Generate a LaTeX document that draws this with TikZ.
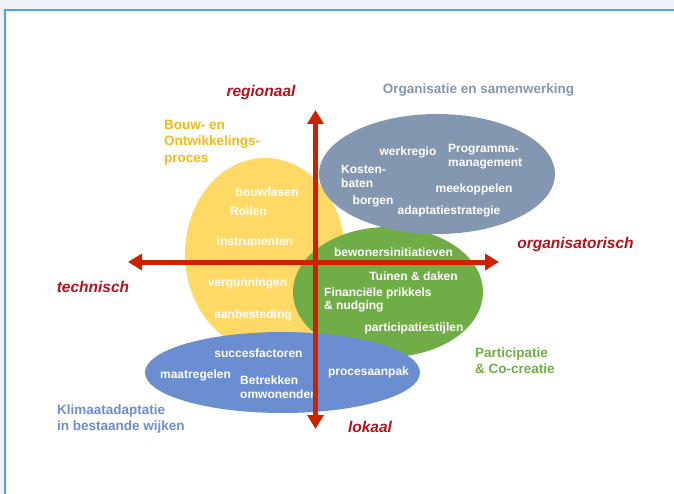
\documentclass[tikz,border=0pt]{standalone}
\usepackage{fontspec}
\setmainfont{Liberation Sans}
\usetikzlibrary{arrows.meta, positioning, shapes.geometric}
\definecolor{axisRed}{HTML}{CC2200}
\definecolor{labelRed}{HTML}{B5121B}
\definecolor{bouwYellow}{HTML}{FFD966}
\definecolor{bouwText}{HTML}{F6B817}
\definecolor{orgGray}{HTML}{8497B0}
\definecolor{partGreen}{HTML}{70AD47}
\definecolor{klimBlue}{HTML}{6A8ECF}
\definecolor{frameBlue}{HTML}{4DA3E0}
\definecolor{pageGray}{HTML}{EEF3F8}
\tikzset{
  axisArrow/.style={{Triangle[width=16pt,length=14pt]}-{Triangle[width=16pt,length=14pt]},
                    axisRed, line width=5pt},
  blob/.style={ellipse, draw=none, inner sep=0pt},
  lbl/.style={text=white, font=\bfseries\fontsize{12}{13.5}\selectfont,
              inner sep=0pt, align=left},
  ttl/.style={font=\bfseries\fontsize{13.5}{16.5}\selectfont, inner sep=0pt, align=left},
  axisLbl/.style={text=labelRed, font=\bfseries\itshape\fontsize{15.5}{18}\selectfont,
                  inner sep=0pt},
}
\begin{document}
\begin{tikzpicture}[x=1pt, y=-1pt]
    \useasboundingbox (0,0) rectangle (674,494);
    \fill[pageGray] (0,0) rectangle (674,494);
    \fill[white] (5,10) rectangle (674,494);
    \draw[frameBlue, line width=2.5pt] (674,10) -- (5,10) -- (5,494);
    % the four themes
    \node[blob, fill=bouwYellow, minimum width=160pt, minimum height=192pt] (bouw) at (265,254) {};
    \node[blob, fill=partGreen, minimum width=190pt, minimum height=130pt] (part) at (388,292) {};
    \node[blob, fill=orgGray, minimum width=236pt, minimum height=120pt] (org) at (437,174) {};
    \node[blob, fill=klimBlue, minimum width=275pt, minimum height=81pt] (klim) at (282.5,372.5) {};
    % titles
    \node[ttl, text=bouwText, anchor=west] (bouwT) at (164,142.5) {Bouw- en\\Ontwikkelings-\\proces};
    \node[ttl, text=orgGray] (orgT) at (478.5,90) {Organisatie en samenwerking};
    \node[ttl, text=partGreen, anchor=west] (partT) at (475,360.5) {Participatie\\\& Co-creatie};
    \node[ttl, text=klimBlue, anchor=west] (klimT) at (57,419) {Klimaatadaptatie\\in bestaande wijken};
    % bouw- en ontwikkelingsproces
    \node[lbl] (bouwfasen) at (267,192) {bouwfasen};
    \node[lbl] (rollen) at (248.5,211) {Rollen};
    \node[lbl] (instr) at (255,241) {instrumenten};
    \node[lbl] (vergun) at (247.5,283) {vergunningen};
    \node[lbl] (aanbest) at (253,315) {aanbesteding};
    % organisatie en samenwerking
    \node[lbl] (werkregio) at (408,152) {werkregio};
    \node[lbl, anchor=west] (progman) at (448,156.5) {Programma-\\management};
    \node[lbl, anchor=west] (kosten) at (341,176.5) {Kosten-\\baten};
    \node[lbl] (meekop) at (474,189) {meekoppelen};
    \node[lbl] (borgen) at (373,201) {borgen};
    \node[lbl] (adapt) at (449,211) {adaptatiestrategie};
    % participatie en co-creatie
    \node[lbl] (bewoners) at (393.5,252) {bewonersinitiatieven};
    \node[lbl] (tuinen) at (413.5,276) {Tuinen \& daken};
    \node[lbl, anchor=west] (prikkels) at (324,300) {Financiële prikkels\\\& nudging};
    \node[lbl] (stijlen) at (414,328) {participatiestijlen};
    % klimaatadaptatie in bestaande wijken
    \node[lbl] (succes) at (258.5,353) {succesfactoren};
    \node[lbl] (maatreg) at (195.5,375) {maatregelen};
    \node[lbl, anchor=west] (betrekken) at (240,387) {Betrekken\\omwonenden};
    \node[lbl] (proces) at (368.5,372) {procesaanpak};
    % axes
    \coordinate (axTop) at (315.5,110);
    \coordinate (axBot) at (315.5,429);
    \coordinate (axLeft) at (128,262);
    \coordinate (axRight) at (499,262);
    \draw[axisArrow] (axBot) -- (axTop);
    \draw[axisArrow] (axLeft) -- (axRight);
    \node[axisLbl] (regionaal) at (261,92) {regionaal};
    \node[axisLbl] (lokaal) at (370,427) {lokaal};
    \node[axisLbl] (technisch) at (93,287) {technisch};
    \node[axisLbl] (organis) at (575.5,244) {organisatorisch};
\end{tikzpicture}
\end{document}
